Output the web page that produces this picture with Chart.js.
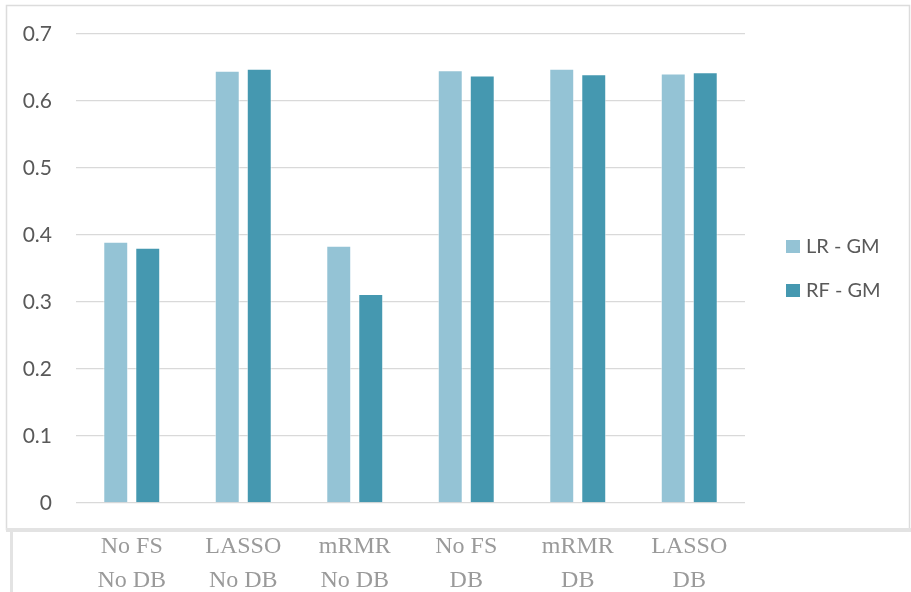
<!DOCTYPE html>
<html>
<head>
<meta charset="utf-8">
<script src="https://cdn.jsdelivr.net/npm/chart.js@4/dist/chart.umd.min.js"></script>
<style>
  html, body { margin: 0; padding: 0; background: #fff; }
  #wrap { width: 911px; height: 592px; }
</style>
</head>
<body>
<div id="wrap"><canvas id="myChart" width="911" height="592"></canvas></div>
<script>
// categories (two-line labels)
const categories = [
  ['No FS', 'No DB'],
  ['LASSO', 'No DB'],
  ['mRMR', 'No DB'],
  ['No FS', 'DB'],
  ['mRMR', 'DB'],
  ['LASSO', 'DB']
];
const seriesNames = ['LR - GM', 'RF - GM'];
const lrGM = [0.390, 0.645, 0.384, 0.646, 0.648, 0.641];
const rfGM = [0.381, 0.648, 0.312, 0.638, 0.640, 0.643];
const yTicks = [0, 0.1, 0.2, 0.3, 0.4, 0.5, 0.6, 0.7];

const LR_COLOR = '#94c3d5';
const RF_COLOR = '#4598b0';

// outer frame + small line under it, like the pasted office chart
const framePlugin = {
  id: 'frame',
  beforeDraw(chart) {
    const ctx = chart.ctx;
    ctx.save();
    ctx.fillStyle = '#fff';
    ctx.fillRect(0, 0, chart.width, chart.height);
    ctx.strokeStyle = '#dcdcdc';
    ctx.lineWidth = 1.5;
    ctx.strokeRect(6.5, 5.5, 903, 524);
    ctx.fillStyle = '#e3e3e3';
    ctx.fillRect(6, 528, 905, 4);
    ctx.fillRect(10, 532, 3, 60);
    ctx.restore();
  }
};

// legend drawn at the right, squares + text
const legendPlugin = {
  id: 'sideLegend',
  afterDraw(chart) {
    const ctx = chart.ctx;
    ctx.save();
    ctx.font = '20px Lato, "Open Sans", sans-serif';
    ctx.textBaseline = 'middle';
    chart.data.datasets.forEach((ds, i) => {
      const y = 240 + i * 44;
      ctx.fillStyle = ds.backgroundColor;
      ctx.fillRect(786, y, 14, 13);
      ctx.fillStyle = '#595959';
      ctx.fillText(ds.label, 806, y + 6.5);
    });
    ctx.restore();
  }
};

const data = {
  labels: categories,
  datasets: [
    {
      label: seriesNames[0],
      data: lrGM,
      backgroundColor: LR_COLOR,
      borderColor: 'rgba(255,255,255,0.55)',
      borderWidth: 1
    },
    {
      label: seriesNames[1],
      data: rfGM,
      backgroundColor: RF_COLOR,
      borderColor: 'rgba(255,255,255,0.55)',
      borderWidth: 1
    }
  ]
};

const config = {
  type: 'bar',
  data: data,
  options: {
    responsive: false,
    animation: false,
    categoryPercentage: 0.574,
    barPercentage: 0.78,
    layout: {
      padding: { left: 6, right: 166, top: 34, bottom: 0 }
    },
    plugins: {
      legend: { display: false },
      tooltip: { enabled: false }
    },
    scales: {
      x: {
        grid: { display: false, drawTicks: false },
        border: { display: false },
        ticks: {
          padding: 27,
          maxRotation: 0,
          autoSkip: false,
          color: '#9a9a9a',
          font: { family: '"Liberation Serif", "DejaVu Serif", serif', size: 24, lineHeight: '34px' }
        },
        afterFit(scale) { scale.height = 89; }
      },
      y: {
        min: 0,
        max: 0.7,
        afterBuildTicks(scale) { scale.ticks = yTicks.map(v => ({ value: v })); },
        grid: { color: '#d9d9d9', lineWidth: 1.3, drawTicks: false },
        border: { display: false },
        ticks: {
          padding: 24,
          color: '#595959',
          font: { family: 'Lato, "Open Sans", sans-serif', size: 21 },
          callback: (v) => String(Math.round(v * 10) / 10)
        },
        afterFit(scale) {
          scale.width = 70;
          // tick padding should not push the plot down
          scale.paddingTop = 0;
          scale.paddingBottom = 0;
        }
      }
    }
  },
  plugins: [framePlugin, legendPlugin]
};

new Chart(document.querySelector('#myChart'), config);
</script>
</body>
</html>
